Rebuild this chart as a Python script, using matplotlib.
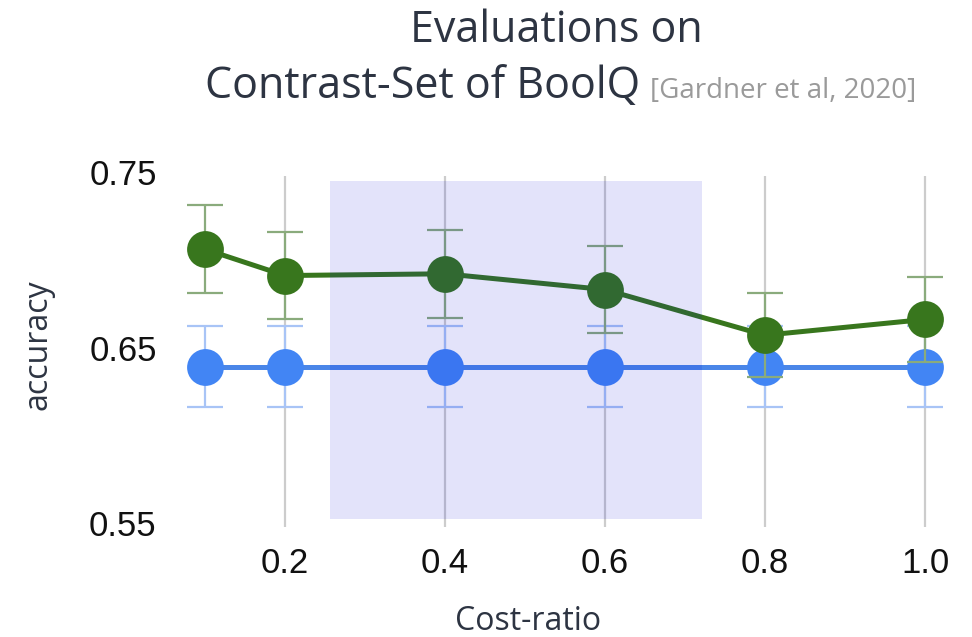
import matplotlib
matplotlib.use("Agg")
import matplotlib.pyplot as plt
from matplotlib.patches import Rectangle

# Cost-ratio settings and accuracy on the BoolQ contrast set
cost_ratio = [0.1, 0.2, 0.4, 0.6, 0.8, 1.0]
green_acc = [0.706, 0.691, 0.692, 0.683, 0.657, 0.666]
green_err = [0.025, 0.025, 0.025, 0.025, 0.024, 0.024]
blue_acc = [0.639, 0.639, 0.639, 0.639, 0.639, 0.639]
blue_err = [0.023, 0.023, 0.023, 0.023, 0.023, 0.023]

x_ticks = [0.2, 0.4, 0.6, 0.8, 1.0]
x_tick_labels = ["0.2", "0.4", "0.6", "0.8", "1.0"]
y_ticks = [0.55, 0.65, 0.75]
y_tick_labels = ["0.55", "0.65", "0.75"]

# highlighted cost-ratio band
band_x = (0.256, 0.721)
band_y = (0.552, 0.745)

W, H = 972, 637
fig = plt.figure(figsize=(W / 100, H / 100), dpi=100)
ax = fig.add_axes([165 / W, 1 - 523 / H, 800 / W, 351 / H])

ax.set_xlim(0.05, 1.05)
ax.set_ylim(0.55, 0.75)
for s in ax.spines.values():
    s.set_visible(False)

# vertical grid lines
for xv in x_ticks:
    ax.plot([xv, xv], [0.548, 0.748], color="#cccccc", lw=1.6, zorder=1,
            solid_capstyle="butt", clip_on=False)

tick_font = dict(family=["Liberation Sans", "DejaVu Sans"], size=25, color="#111111")
ax.set_xticks(x_ticks)
ax.set_xticklabels(x_tick_labels, **tick_font)
ax.set_yticks(y_ticks)
ax.set_yticklabels(y_tick_labels, **tick_font)
ax.tick_params(axis="both", length=0)
ax.tick_params(axis="x", pad=17)
ax.tick_params(axis="y", pad=6)

# blue series
ax.errorbar(cost_ratio, blue_acc, yerr=blue_err, fmt="none", ecolor="#a8c4f6",
            elinewidth=1.6, capsize=13, capthick=1.6, zorder=2)
ax.plot(cost_ratio, blue_acc, color="#4a86e8", lw=3.6, zorder=3)
ax.plot(cost_ratio, blue_acc, "o", color="#4285f4", ms=26.5, mew=0, zorder=4)

# green series
ax.errorbar(cost_ratio, green_acc, yerr=green_err, fmt="none", ecolor="#8aab7c",
            elinewidth=1.6, capsize=13, capthick=1.6, zorder=5)
ax.plot(cost_ratio, green_acc, color="#38761d", lw=3.6, zorder=6)
ax.plot(cost_ratio, green_acc, "o", color="#38761d", ms=26.5, mew=0, zorder=7)

# translucent band drawn over the data
ax.add_patch(Rectangle((band_x[0], band_y[0]), band_x[1] - band_x[0],
                       band_y[1] - band_y[0], facecolor=(0.0, 0.0, 0.85),
                       alpha=0.11, lw=0, zorder=10))

label_font = ["Open Sans", "DejaVu Sans"]
dark = "#2d3442"
fig.text(556 / W, 1 - 31 / H, "Evaluations on", ha="center", va="center",
         family=label_font, size=31, color=dark)
fig.text(640 / W, 1 - 98 / H, "Contrast-Set of BoolQ", ha="right",
         va="baseline", family=label_font, size=31, color=dark)
fig.text(650 / W, 1 - 98 / H, "[Gardner et al, 2020]", ha="left",
         va="baseline", family=label_font, size=20, color="#9a9a9a")

fig.text(528 / W, 1 - 622 / H, "Cost-ratio", ha="center", va="center",
         family=label_font, size=23, color=dark)
fig.text(38 / W, 1 - 345 / H, "accuracy", ha="center", va="center",
         rotation=90, family=label_font, size=23, color=dark)

fig.savefig("out.png", dpi=100)
